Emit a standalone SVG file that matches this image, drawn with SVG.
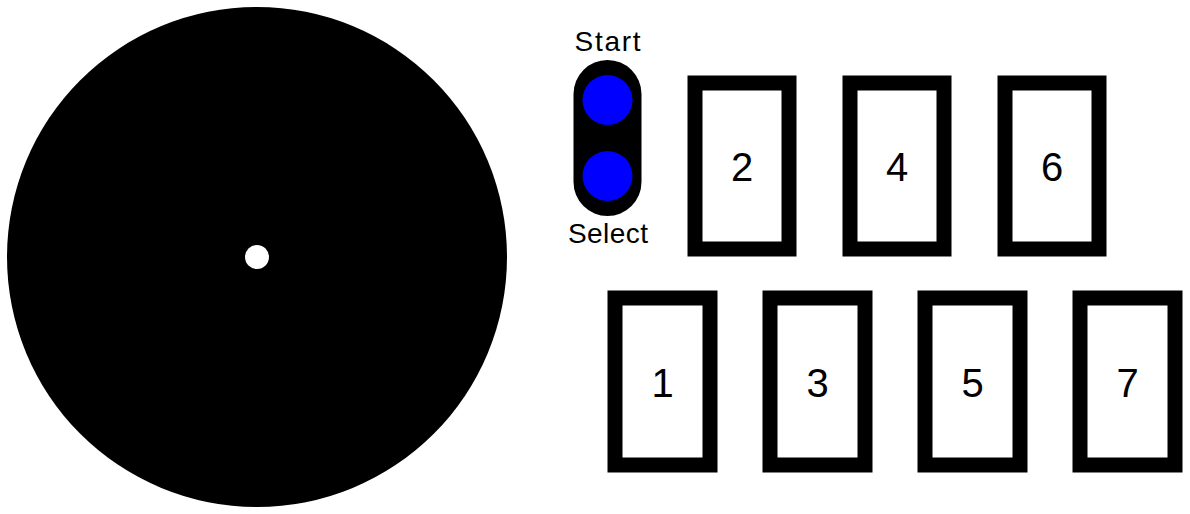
<svg xmlns="http://www.w3.org/2000/svg" width="1190" height="514" viewBox="0 0 1190 514">
  <style>
    .key rect { fill: #ffffff; stroke: #000000; stroke-width: 15; }
    .key text { font-family: "Liberation Sans", Arial, sans-serif; font-size: 40px; fill: #000000; text-anchor: middle; }
    .lbl { font-family: "Liberation Sans", Arial, sans-serif; font-size: 28px; fill: #000000; text-anchor: middle; }
    .btn { fill: #0000ff; }
  </style>
  <rect x="0" y="0" width="1190" height="514" fill="#ffffff"/>
  <g id="turntable">
    <circle cx="257" cy="257" r="250" fill="#000000"/>
    <circle cx="257" cy="257" r="12" fill="#ffffff"/>
  </g>
  <g id="start-select">
    <rect x="573.5" y="60" width="68" height="156" rx="34" ry="34" fill="#000000"/>
    <circle class="btn" cx="607.5" cy="100" r="25"/>
    <circle class="btn" cx="607.5" cy="176" r="25"/>
    <text class="lbl" x="607.5" y="50.5" textLength="66">Start</text>
    <text class="lbl" x="608" y="243" textLength="80">Select</text>
  </g>
  <g id="key1" class="key"><rect x="615" y="298" width="95" height="167"/><text x="662.5" y="396.5">1</text></g>
  <g id="key2" class="key"><rect x="695" y="83" width="94" height="166"/><text x="742" y="181">2</text></g>
  <g id="key3" class="key"><rect x="770" y="298" width="95" height="167"/><text x="817.5" y="396.5">3</text></g>
  <g id="key4" class="key"><rect x="850" y="83" width="94" height="166"/><text x="897" y="181">4</text></g>
  <g id="key5" class="key"><rect x="925" y="298" width="95" height="167"/><text x="972.5" y="396.5">5</text></g>
  <g id="key6" class="key"><rect x="1005" y="83" width="94" height="166"/><text x="1052" y="181">6</text></g>
  <g id="key7" class="key"><rect x="1080" y="298" width="95" height="167"/><text x="1127.5" y="396.5">7</text></g>
  <g id="connectors"></g>
</svg>
